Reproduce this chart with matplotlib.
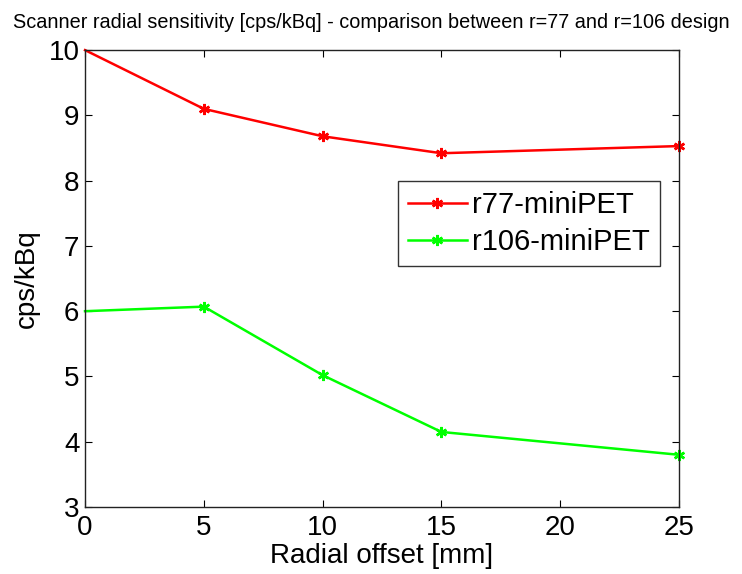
import numpy as np
import matplotlib
matplotlib.use("Agg")
import matplotlib.pyplot as plt

plt.rcParams['font.family'] = ['Liberation Sans', 'DejaVu Sans']

offsets = [0, 5, 10, 15, 25]
r77_vals = [10.0, 9.1, 8.68, 8.42, 8.53]
r106_vals = [6.0, 6.07, 5.02, 4.15, 3.8]
series_names = ['r77-miniPET', 'r106-miniPET']
xticks = [0, 5, 10, 15, 20, 25]
yticks = [3, 4, 5, 6, 7, 8, 9, 10]

fig = plt.figure(figsize=(7.42, 5.74), dpi=100)
ax = fig.add_axes([0.1146, 0.1167, 0.8005, 0.796])

# MATLAB style asterisk markers, none at the origin
star = (6, 2, 0)
ax.plot(offsets, r77_vals, color='#ff0000', lw=1.8, marker=star, ms=8, mew=1.8,
        markevery=[1, 2, 3, 4], label=series_names[0], clip_on=False)
ax.plot(offsets, r106_vals, color='#00ff00', lw=1.8, marker=star, ms=8, mew=1.8,
        markevery=[1, 2, 3, 4], label=series_names[1], clip_on=False)

ax.set_xlim(0, 25)
ax.set_ylim(3, 10)
ax.set_xticks(xticks)
ax.set_yticks(yticks)
ax.tick_params(direction='in', top=True, right=True, labelsize=20, length=5, width=0.8)
ax.tick_params(axis='x', pad=6)
ax.tick_params(axis='y', pad=4)
for s in ax.spines.values():
    s.set_linewidth(1.0)
    s.set_color('#222222')

ax.set_xlabel('Radial offset [mm]', fontsize=20, labelpad=1)
ax.set_ylabel('cps/kBq', fontsize=20, labelpad=6)
fig.text(0.5, 0.96, 'Scanner radial sensitivity [cps/kBq] - comparison between r=77 and r=106 design',
         ha='center', va='center', fontsize=14.3)

leg = ax.legend(loc='upper left', bbox_to_anchor=(0.527, 0.713), borderaxespad=0,
                fontsize=21, fancybox=False, edgecolor='#333333', framealpha=1,
                handlelength=2.0, borderpad=0.35, labelspacing=0.3, handletextpad=0.2)
leg.get_frame().set_linewidth(1.0)

fig.savefig('out.png', dpi=100)
